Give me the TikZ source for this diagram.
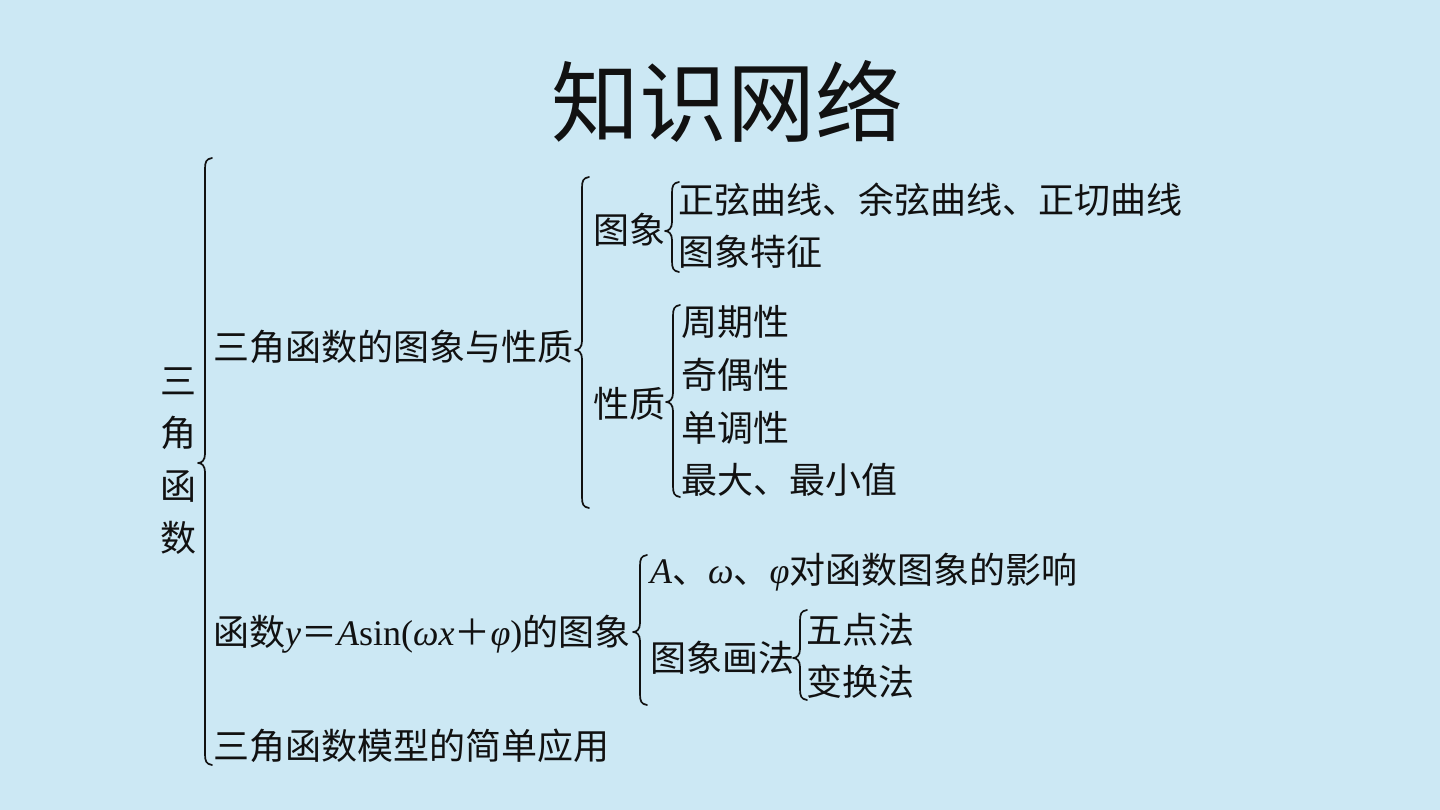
\documentclass[tikz,border=0pt]{standalone}
\usepackage{fontspec}
\setmainfont{Noto Sans CJK SC}
\newfontfamily\tmfont{Liberation Serif}
\newcommand\lat[1]{{\tmfont\itshape #1}}
\newcommand\latup[1]{{\tmfont #1}}
\definecolor{bgblue}{RGB}{204,232,244}
\definecolor{ink}{RGB}{17,17,17}
\tikzset{
  t/.style={font=\fontsize{36}{42}\selectfont, anchor=base west, inner sep=0pt, text=ink},
  ttl/.style={font=\fontsize{88}{100}\selectfont, anchor=base, inner sep=0pt, text=ink},
  brc/.style={draw=ink, line width=1.7pt, line cap=round, line join=round}
}
% brace: x, y-top, y-tip, y-bottom
\newcommand\mybrace[4]{%
  \draw[brc] (#1+7,#2) .. controls (#1+1,#2+1) and (#1,#2+4) .. (#1,#2+11)
    -- (#1,#3-9) .. controls (#1,#3-3) and (#1-3,#3) .. (#1-7,#3)
    .. controls (#1-3,#3) and (#1,#3+3) .. (#1,#3+9)
    -- (#1,#4-11) .. controls (#1,#4-4) and (#1+1,#4-1) .. (#1+7,#4);
  \coordinate (#1tip) at (#1-7,#3);
}
\begin{document}
\begin{tikzpicture}[x=1pt,y=-1pt]
\fill[bgblue] (0,0) rectangle (1440,810);
\useasboundingbox (0,0) rectangle (1440,810);

\node[ttl] (title) at (727,136) {知识网络};

\node[font=\fontsize{36}{52.5}\selectfont, align=center, inner sep=0pt, text=ink, anchor=center] (root) at (178,461) {三\\角\\函\\数};

% level 1
\node[t] (n1) at (213,360) {三角函数的图象与性质};
\node[t] (n2) at (213,645) {函数\lat{y}＝\lat{A}\latup{sin(}\lat{ωx}＋\lat{φ}\latup{)}的图象};
\node[t] (n3) at (213,759) {三角函数模型的简单应用};

% level 2 under n1
\node[t] (tx) at (593,244) {图象};
\node[t] (xz) at (593,417) {性质};
\node[t] (tx1) at (678,214) {正弦曲线、余弦曲线、正切曲线};
\node[t] (tx2) at (678,266) {图象特征};
\node[t] (xz1) at (681,335) {周期性};
\node[t] (xz2) at (681,388) {奇偶性};
\node[t] (xz3) at (681,441) {单调性};
\node[t] (xz4) at (681,493) {最大、最小值};

% level 2 under n2
\node[t] (aw) at (650,583) {\lat{A}、\lat{ω}、\lat{φ}对函数图象的影响};
\node[t] (hf) at (650,671) {图象画法};
\node[t] (wd) at (806,643) {五点法};
\node[t] (bh) at (806,695) {变换法};

% braces
\mybrace{205}{158}{463}{765}
\mybrace{582}{177}{350}{508}
\mybrace{672}{182}{231}{272}
\mybrace{673}{305}{402}{497}
\mybrace{640}{555}{632}{705}
\mybrace{800}{610}{658}{700}
\end{tikzpicture}
\end{document}
